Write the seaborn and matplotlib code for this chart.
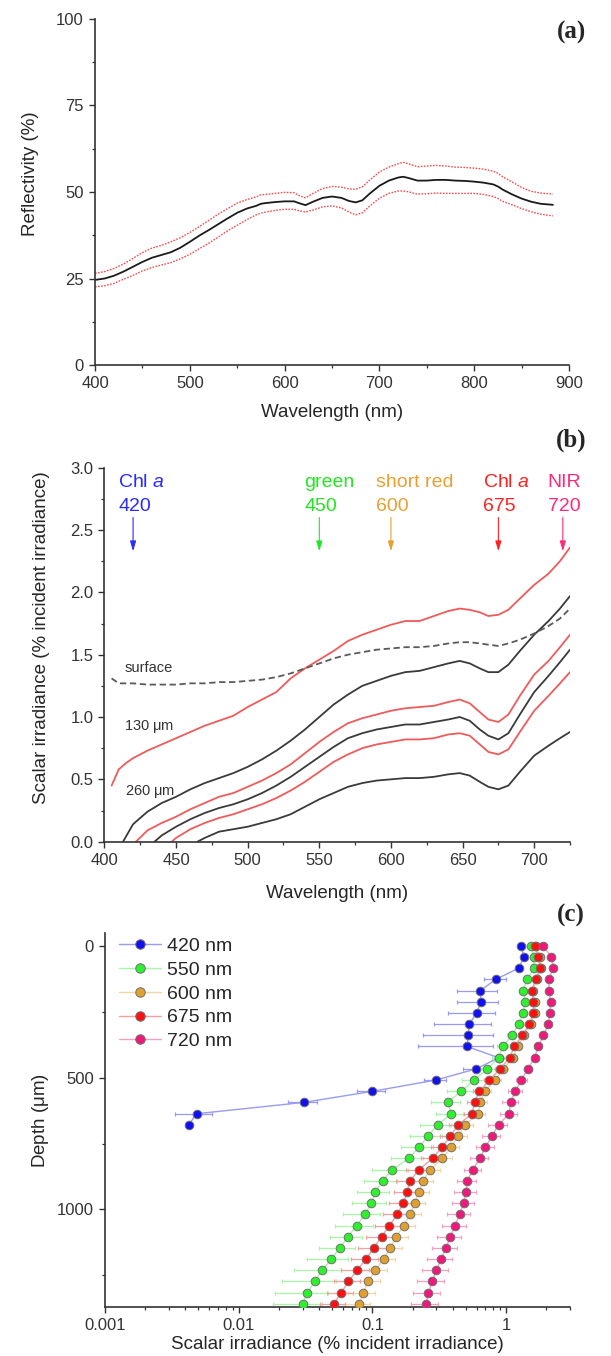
import numpy as np
import pandas as pd
import matplotlib
matplotlib.use("Agg")
import matplotlib.pyplot as plt
from matplotlib.ticker import AutoMinorLocator, MultipleLocator, LogLocator, NullFormatter
import seaborn as sns

# ---------------- panel (a): reflectivity ----------------
wl_a = [400, 410, 420, 430, 440, 450, 460, 470, 480, 490, 500, 510, 520, 530, 540, 550,
        560, 570, 575, 580, 590, 600, 610, 615, 622, 630, 640, 650, 660, 668, 675, 682,
        690, 700, 710, 720, 725, 730, 740, 750, 760, 770, 780, 790, 800, 810, 820, 825,
        830, 840, 850, 860, 870, 883]
refl_mean = [24.6, 25.0, 25.8, 27.0, 28.4, 29.8, 31.0, 31.8, 32.6, 33.9, 35.6, 37.4, 39.0,
             40.7, 42.4, 44.0, 45.2, 46.0, 46.6, 46.8, 47.1, 47.3, 47.3, 46.8, 46.2, 47.2,
             48.3, 48.7, 48.3, 47.4, 47.0, 47.6, 49.6, 51.8, 53.3, 54.2, 54.4, 54.1, 53.3,
             53.3, 53.5, 53.5, 53.3, 53.2, 53.0, 52.7, 52.2, 51.6, 50.7, 49.3, 48.1, 47.2,
             46.6, 46.3]
refl_upper = [26.5, 27.0, 27.9, 29.2, 30.8, 32.5, 33.8, 34.6, 35.6, 36.8, 38.3, 40.0, 41.8,
              43.6, 45.2, 46.8, 47.8, 48.6, 49.2, 49.3, 49.6, 49.9, 49.8, 49.0, 48.3, 49.6,
              51.0, 51.6, 51.4, 50.9, 50.8, 51.5, 53.5, 55.8, 57.2, 58.2, 58.6, 58.2, 57.3,
              57.5, 57.7, 57.5, 57.2, 57.1, 56.9, 56.6, 56.0, 55.4, 54.4, 52.9, 51.3, 50.2,
              49.7, 49.4]
refl_lower = [22.6, 22.9, 23.6, 24.8, 25.9, 27.2, 28.2, 28.9, 29.6, 30.7, 32.0, 33.6, 35.2,
              37.0, 38.8, 40.4, 42.0, 43.4, 43.9, 44.2, 44.7, 45.0, 45.0, 44.6, 44.2, 44.8,
              45.7, 46.0, 45.4, 44.2, 43.4, 44.0, 46.0, 48.2, 49.6, 50.3, 50.3, 50.1, 49.4,
              49.5, 49.7, 49.6, 49.6, 49.6, 49.6, 49.3, 48.7, 48.1, 47.3, 46.3, 45.2, 44.3,
              43.6, 43.1]

# ---------------- panel (b): scalar irradiance spectra ----------------
wl_grid_b = [420, 430, 440, 450, 460, 470, 480, 490, 500, 510, 520, 530, 540, 550, 560, 570,
             580, 590, 600, 610, 620, 630, 640, 648, 655, 662, 668, 675, 682, 690, 700, 710,
             718, 725]
wl_surface = [405, 410] + wl_grid_b
surface = [1.31, 1.27, 1.27, 1.26, 1.26, 1.26, 1.27, 1.27, 1.28, 1.28, 1.29, 1.30, 1.32, 1.35,
           1.39, 1.43, 1.47, 1.50, 1.52, 1.54, 1.55, 1.56, 1.56, 1.57, 1.59, 1.60, 1.60, 1.59,
           1.58, 1.57, 1.59, 1.62, 1.67, 1.73, 1.79, 1.87]
wl_r1 = [405, 410, 415] + wl_grid_b
red_1 = [0.45, 0.58, 0.63, 0.67, 0.73, 0.78, 0.83, 0.88, 0.93, 0.97, 1.01, 1.08, 1.14, 1.20,
         1.31, 1.39, 1.46, 1.53, 1.61, 1.66, 1.70, 1.74, 1.77, 1.77, 1.81, 1.85, 1.87, 1.86,
         1.84, 1.81, 1.82, 1.86, 1.95, 2.06, 2.15, 2.25, 2.36]
wl_k2 = [413] + wl_grid_b
black_2 = [0.0, 0.14, 0.24, 0.31, 0.36, 0.42, 0.47, 0.51, 0.55, 0.60, 0.66, 0.73, 0.81, 0.90,
           1.00, 1.10, 1.18, 1.25, 1.29, 1.33, 1.36, 1.37, 1.40, 1.43, 1.45, 1.43, 1.39, 1.36,
           1.36, 1.42, 1.53, 1.66, 1.77, 1.87, 1.97]
wl_r2 = [422] + wl_grid_b[1:]
red_2 = [0.0, 0.09, 0.15, 0.20, 0.26, 0.31, 0.36, 0.39, 0.44, 0.49, 0.55, 0.62, 0.71, 0.80,
         0.88, 0.95, 0.99, 1.02, 1.05, 1.07, 1.08, 1.09, 1.12, 1.14, 1.11, 1.04, 0.98, 0.96,
         1.02, 1.17, 1.34, 1.45, 1.56, 1.66]
wl_k3 = [435] + wl_grid_b[2:]
black_3 = [0.0, 0.05, 0.12, 0.18, 0.23, 0.27, 0.30, 0.34, 0.39, 0.45, 0.52, 0.60, 0.68, 0.76,
           0.83, 0.87, 0.90, 0.92, 0.94, 0.94, 0.96, 0.98, 1.00, 0.97, 0.90, 0.85, 0.82, 0.87,
           1.02, 1.20, 1.33, 1.44, 1.54]
wl_r3 = [447] + wl_grid_b[3:]
red_3 = [0.0, 0.03, 0.10, 0.15, 0.19, 0.22, 0.26, 0.30, 0.35, 0.41, 0.48, 0.56, 0.64, 0.70,
         0.75, 0.78, 0.80, 0.82, 0.82, 0.83, 0.86, 0.87, 0.85, 0.78, 0.72, 0.70, 0.74, 0.88,
         1.05, 1.17, 1.27, 1.36]
wl_k4 = [465] + wl_grid_b[5:]
black_4 = [0.0, 0.03, 0.08, 0.10, 0.12, 0.15, 0.18, 0.22, 0.28, 0.34, 0.39, 0.44, 0.47, 0.49,
           0.50, 0.51, 0.51, 0.52, 0.54, 0.55, 0.53, 0.48, 0.44, 0.42, 0.45, 0.56, 0.69, 0.77,
           0.83, 0.88]

band_names = ["Chl a", "green", "short red", "Chl a", "NIR"]
band_numbers = ["420", "450", "600", "675", "720"]
band_arrow_wl = [420, 550, 600, 675, 720]
band_colors = ["#2a2aff", "#22e622", "#e8a030", "#ff2020", "#ff2a7a"]

# ---------------- panel (c): depth profiles ----------------
depth = [0, 42, 85, 127, 170, 212, 255, 297, 340, 382, 425, 467, 509, 552, 594, 637, 679,
         722, 764, 806, 849, 891, 934, 976, 1019, 1061, 1103, 1146, 1188, 1231, 1273, 1316, 1358]
e420 = [1.29, 1.36, 1.24, 0.84, 0.64, 0.65, 0.60, 0.53, 0.52, 0.51, 0.88, 0.594, 0.30, 0.10,
        0.0307, 0.00484, 0.00423]
e420_sd = [0.04, 0.04, 0.05, 0.16, 0.21, 0.22, 0.23, 0.24, 0.28, 0.29, 0.06, 0.12, 0.055,
           0.024, 0.0075, 0.0015, 0.0]
e550 = [1.54, 1.61, 1.61, 1.44, 1.33, 1.39, 1.33, 1.24, 1.10, 0.94, 0.88, 0.72, 0.577, 0.46,
        0.365, 0.389, 0.307, 0.26, 0.223, 0.187, 0.141, 0.119, 0.105, 0.098, 0.0877, 0.0764,
        0.0654, 0.057, 0.0492, 0.0421, 0.0371, 0.0326, 0.030]
e550_sd = [0.05, 0.05, 0.05, 0.05, 0.05, 0.05, 0.05, 0.06, 0.09, 0.09, 0.10, 0.10, 0.11, 0.10,
           0.09, 0.09, 0.08, 0.07, 0.06, 0.05, 0.042, 0.033, 0.028, 0.028, 0.027, 0.024,
           0.0175, 0.017, 0.017, 0.016, 0.016, 0.014, 0.012]
e600 = [1.66, 1.78, 1.82, 1.70, 1.58, 1.63, 1.63, 1.52, 1.36, 1.22, 1.12, 0.95, 0.83, 0.69,
        0.64, 0.615, 0.494, 0.436, 0.387, 0.333, 0.271, 0.239, 0.222, 0.207, 0.192, 0.171,
        0.151, 0.136, 0.121, 0.105, 0.0929, 0.0852, 0.0795]
e600_sd = [0.04, 0.04, 0.04, 0.04, 0.04, 0.04, 0.04, 0.05, 0.08, 0.08, 0.08, 0.08, 0.08, 0.08,
           0.08, 0.08, 0.07, 0.07, 0.06, 0.06, 0.05, 0.045, 0.042, 0.04, 0.038, 0.036, 0.032,
           0.03, 0.027, 0.024, 0.021, 0.019, 0.017]
e675 = [1.63, 1.74, 1.79, 1.66, 1.55, 1.60, 1.60, 1.49, 1.32, 1.15, 1.06, 0.90, 0.75, 0.63,
        0.58, 0.557, 0.436, 0.382, 0.331, 0.282, 0.223, 0.191, 0.182, 0.170, 0.153, 0.134,
        0.117, 0.102, 0.0898, 0.0764, 0.0662, 0.0584, 0.0514]
e675_sd = [0.04, 0.04, 0.04, 0.04, 0.04, 0.04, 0.04, 0.05, 0.07, 0.07, 0.07, 0.07, 0.07, 0.07,
           0.07, 0.07, 0.06, 0.06, 0.055, 0.05, 0.045, 0.04, 0.038, 0.036, 0.034, 0.03, 0.027,
           0.024, 0.021, 0.018, 0.015, 0.013, 0.011]
e720 = [1.87, 2.18, 2.25, 2.09, 2.09, 2.15, 2.12, 2.07, 1.90, 1.74, 1.63, 1.45, 1.30, 1.17,
        1.08, 1.05, 0.877, 0.78, 0.70, 0.632, 0.564, 0.512, 0.50, 0.481, 0.449, 0.414, 0.382,
        0.355, 0.326, 0.30, 0.279, 0.262, 0.252]
e720_sd = [0.05, 0.05, 0.05, 0.05, 0.05, 0.05, 0.05, 0.05, 0.05, 0.05, 0.08, 0.10, 0.12, 0.14,
           0.15, 0.15, 0.14, 0.12, 0.11, 0.10, 0.08, 0.085, 0.09, 0.09, 0.09, 0.085, 0.08,
           0.075, 0.07, 0.066, 0.063, 0.06, 0.057]
series_labels = ["420 nm", "550 nm", "600 nm", "675 nm", "720 nm"]
marker_colors = ["#1010f0", "#2ef02e", "#e0a030", "#ff1010", "#f0187a"]
line_colors = ["#9a9af5", "#a8f5a8", "#f2d6a8", "#f5a0a0", "#f5a0c0"]

TICK_FS = 12
LABEL_FS = 13.5


def style_axis(ax):
    for side in ["top", "right"]:
        ax.spines[side].set_visible(False)
    for side in ["left", "bottom"]:
        ax.spines[side].set_linewidth(1.2)
        ax.spines[side].set_color("#333333")
    ax.tick_params(which="major", direction="out", length=4.5, width=1.0, color="#333333",
                   labelsize=TICK_FS, labelcolor="#333333")
    ax.tick_params(which="minor", direction="out", length=2.5, width=0.9, color="#333333")
    ax.grid(False)


sns.set_theme(style="ticks")
plt.rcParams["font.family"] = ["Liberation Sans", "DejaVu Sans"]
plt.rcParams["mathtext.fontset"] = "custom"
plt.rcParams["mathtext.rm"] = "Liberation Sans"
plt.rcParams["mathtext.it"] = "Liberation Sans:italic"

fig = plt.figure(figsize=(6.11, 13.56), dpi=100)
ax_a = fig.add_axes([0.1555, 0.7308, 0.7758, 0.2552])
ax_b = fig.add_axes([0.1709, 0.3793, 0.7620, 0.2758])
ax_c = fig.add_axes([0.1718, 0.0361, 0.7611, 0.2758])

# ---- (a)
df_a = pd.DataFrame({"wl": wl_a, "mean": refl_mean, "up": refl_upper, "lo": refl_lower})
sns.lineplot(data=df_a, x="wl", y="up", ax=ax_a, color="#f05050", lw=1.0, ls=(0, (1.2, 1.0)))
sns.lineplot(data=df_a, x="wl", y="lo", ax=ax_a, color="#f05050", lw=1.0, ls=(0, (1.2, 1.0)))
sns.lineplot(data=df_a, x="wl", y="mean", ax=ax_a, color="#1a1a1a", lw=1.3)
ax_a.set_xlim(400, 900)
ax_a.set_ylim(0, 100)
ax_a.xaxis.set_major_locator(MultipleLocator(100))
ax_a.xaxis.set_minor_locator(AutoMinorLocator(2))
ax_a.yaxis.set_major_locator(MultipleLocator(25))
ax_a.yaxis.set_minor_locator(AutoMinorLocator(2))
ax_a.set_xlabel("Wavelength (nm)", fontsize=LABEL_FS)
ax_a.set_ylabel("Reflectivity (%)", fontsize=LABEL_FS)
ax_a.xaxis.set_label_coords(0.5, -0.113)
ax_a.yaxis.set_label_coords(-0.118, 0.552)
style_axis(ax_a)

# ---- (b)
curves_b = [(wl_r1, red_1, "#f05a5a"), (wl_k2, black_2, "#3a3a3a"), (wl_r2, red_2, "#f05a5a"),
            (wl_k3, black_3, "#3a3a3a"), (wl_r3, red_3, "#f05a5a"), (wl_k4, black_4, "#3a3a3a")]
for wl, vals, col in curves_b:
    sns.lineplot(x=wl, y=vals, ax=ax_b, color=col, lw=1.3, sort=False, estimator=None)
sns.lineplot(x=wl_surface, y=surface, ax=ax_b, color="#5a5a5a", lw=1.3, ls=(0, (3.5, 2)),
             sort=False, estimator=None)
ax_b.text(414, 1.39, "surface", fontsize=10.5, color="#333333", va="center")
ax_b.text(414, 0.92, "130 $\\mathrm{\\mu}$m", fontsize=10.5, color="#333333", va="center")
ax_b.text(414.5, 0.40, "260 $\\mathrm{\\mu}$m", fontsize=10.5, color="#333333", va="center")
for name, num, wl, col in zip(band_names, band_numbers, band_arrow_wl, band_colors):
    label = name.replace(" a", " $\\mathit{a}$") if name == "Chl a" else name
    ax_b.text(wl - 10.5, 2.88, label, color=col, fontsize=14, va="center", ha="left")
    ax_b.text(wl - 10.5, 2.685, num, color=col, fontsize=14, va="center", ha="left")
    ax_b.annotate("", xy=(wl, 2.33), xytext=(wl, 2.60),
                  arrowprops=dict(arrowstyle="-|>,head_length=0.5,head_width=0.15",
                                  color=col, lw=0.8, shrinkA=0, shrinkB=0))
ax_b.set_xlim(400, 725)
ax_b.set_ylim(0, 3.0)
ax_b.xaxis.set_major_locator(MultipleLocator(50))
ax_b.xaxis.set_minor_locator(AutoMinorLocator(2))
ax_b.yaxis.set_major_locator(MultipleLocator(0.5))
ax_b.yaxis.set_minor_locator(AutoMinorLocator(2))
ax_b.yaxis.set_major_formatter(matplotlib.ticker.FormatStrFormatter("%.1f"))
ax_b.set_xlabel("Wavelength (nm)", fontsize=LABEL_FS)
ax_b.set_ylabel("Scalar irradiance (% incident irradiance)", fontsize=LABEL_FS)
ax_b.xaxis.set_label_coords(0.5, -0.116)
ax_b.yaxis.set_label_coords(-0.117, 0.546)
style_axis(ax_b)

# ---- (c)
ax_c.set_xscale("log")
values_c = [e420, e550, e600, e675, e720]
errs_c = [e420_sd, e550_sd, e600_sd, e675_sd, e720_sd]
for vals, sd, lab, mc, lc in zip(values_c, errs_c, series_labels, marker_colors, line_colors):
    d = depth[:len(vals)]
    ax_c.errorbar(vals, d, xerr=sd, fmt="none", ecolor=lc, elinewidth=0.9, capsize=1.3,
                  capthick=0.9, zorder=2)
    sns.lineplot(x=vals, y=d, ax=ax_c, sort=False, estimator=None, color=lc, lw=1.0,
                 marker="o", markersize=6.2, markerfacecolor=mc, markeredgecolor="#707070",
                 markeredgewidth=0.7, label=lab, zorder=3)
ax_c.set_xlim(0.001, 3.0)
ax_c.set_ylim(1370, -48)
ax_c.yaxis.set_major_locator(MultipleLocator(500))
ax_c.yaxis.set_minor_locator(AutoMinorLocator(2))
ax_c.xaxis.set_major_locator(LogLocator(base=10))
ax_c.xaxis.set_minor_locator(LogLocator(base=10, subs=np.arange(2, 10)))
ax_c.xaxis.set_minor_formatter(NullFormatter())
ax_c.xaxis.set_major_formatter(matplotlib.ticker.FuncFormatter(lambda v, p: f"{v:g}"))
ax_c.set_xlabel("Scalar irradiance (% incident irradiance)", fontsize=LABEL_FS)
ax_c.set_ylabel("Depth ($\\mathrm{\\mu}$m)", fontsize=LABEL_FS)
ax_c.xaxis.set_label_coords(0.5, -0.078)
ax_c.yaxis.set_label_coords(-0.116, 0.5)
style_axis(ax_c)
leg = ax_c.legend(loc="upper left", bbox_to_anchor=(0.0, 1.025), frameon=False, fontsize=14,
                  handlelength=2.2, labelspacing=0.32, handletextpad=0.3, borderaxespad=0.3,
                  markerscale=1.1)

for lab, y in zip(["(a)", "(b)", "(c)"], [0.976, 0.6755, 0.325]):
    fig.text(0.935, y, lab, fontsize=18, fontweight="bold", family="Liberation Serif",
             ha="center", va="center")

fig.savefig("out.png", dpi=100)
